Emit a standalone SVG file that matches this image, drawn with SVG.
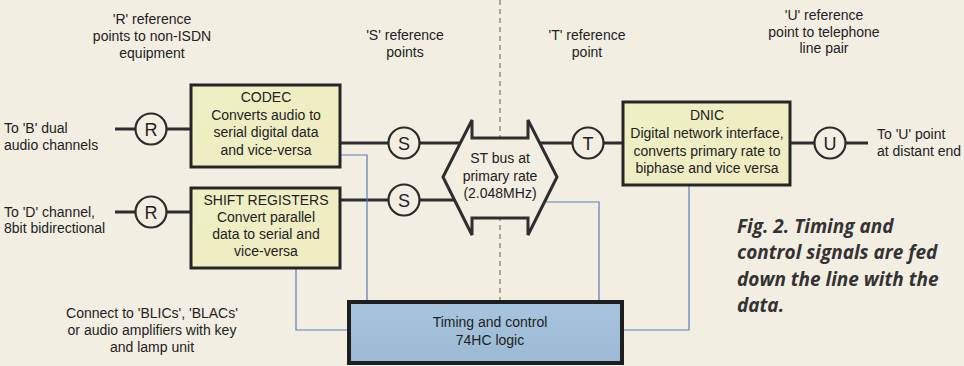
<svg xmlns="http://www.w3.org/2000/svg" width="964" height="366" viewBox="0 0 964 366">
<defs>
<linearGradient id="yel" x1="0" y1="0" x2="1" y2="1">
<stop offset="0" stop-color="#eef0c4"/>
<stop offset="1" stop-color="#f0ebc2"/>
</linearGradient>
<linearGradient id="blu" x1="0" y1="0" x2="0" y2="1">
<stop offset="0" stop-color="#a7c5de"/>
<stop offset="1" stop-color="#9bb9d2"/>
</linearGradient>
<style>
text{font-family:"Liberation Sans",Arial,sans-serif;font-size:14px;fill:#222;text-anchor:middle}
.l{text-anchor:start}
.box{stroke:#262626;stroke-width:3;fill:url(#yel)}
.circ{fill:#f3eee2;stroke:#2b2b2b;stroke-width:2.2}
.ct{font-size:18px}
.wire{stroke:#2e2e2e;stroke-width:3;fill:none}
.bl{stroke:#5d7fb3;stroke-width:1.2;fill:none}
.cap{font-family:"Open Sans","Noto Sans",sans-serif;font-weight:bold;font-style:italic;font-size:19px;fill:#333;text-anchor:start}
</style>
</defs>
<rect width="964" height="366" fill="#f3eee2"/>
<line x1="500" y1="0" x2="500" y2="366" stroke="#777" stroke-width="1.2" stroke-dasharray="5,4"/>

<g id="labels">
<text x="152" y="24">'R' reference</text>
<text x="152" y="41">points to non-ISDN</text>
<text x="152" y="58">equipment</text>
<text x="405" y="40">'S' reference</text>
<text x="405" y="57">points</text>
<text x="587" y="40">'T' reference</text>
<text x="587" y="57">point</text>
<text x="824" y="20">'U' reference</text>
<text x="824" y="37">point to telephone</text>
<text x="824" y="53">line pair</text>
<text class="l" x="4" y="133">To 'B' dual</text>
<text class="l" x="4" y="150">audio channels</text>
<text class="l" x="4" y="217">To 'D' channel,</text>
<text class="l" x="4" y="233">8bit bidirectional</text>
<text class="l" x="877" y="139">To 'U' point</text>
<text class="l" x="877" y="156" font-size="13.5">at distant end</text>
<text x="152" y="318">Connect to 'BLICs', 'BLACs'</text>
<text x="152" y="335">or audio amplifiers with key</text>
<text x="152" y="352">and lamp unit</text>
</g>

<g id="connectors">
<path class="wire" d="M115,129 H137 M165,129 H191"/>
<path class="wire" d="M115,212 H137 M165,212 H191"/>
<path class="wire" d="M340,143 H390 M418,143 H461"/>
<path class="wire" d="M340,200 H390 M418,200 H455"/>
<path class="wire" d="M539,143 H574 M602,143 H623"/>
<path class="wire" d="M790,143 H816 M844,143 H868"/>
<path class="bl" d="M340,155 H367 V302"/>
<path class="bl" d="M296,268 V330 H349"/>
<path class="bl" d="M545,202 H599 V302"/>
<path class="bl" d="M689,185 V330 H622"/>
</g>

<g id="R1"><circle class="circ" cx="151" cy="129" r="15.5"/><text class="ct" x="151" y="135.5">R</text></g>
<g id="R2"><circle class="circ" cx="151" cy="212" r="15.5"/><text class="ct" x="151" y="218.5">R</text></g>
<g id="S1"><circle class="circ" cx="404" cy="143" r="15.5"/><text class="ct" x="404" y="149.5">S</text></g>
<g id="S2"><circle class="circ" cx="404" cy="200" r="15.5"/><text class="ct" x="404" y="206.5">S</text></g>
<g id="T"><circle class="circ" cx="588" cy="143" r="15.5"/><text class="ct" x="588" y="149.5">T</text></g>
<g id="U"><circle class="circ" cx="830" cy="143" r="15.5"/><text class="ct" x="830" y="149.5">U</text></g>

<g id="codec">
<rect class="box" x="191" y="85" width="149" height="82"/>
<text x="266" y="102">CODEC</text>
<text x="266" y="120">Converts audio to</text>
<text x="266" y="137">serial digital data</text>
<text x="266" y="155">and vice-versa</text>
</g>
<g id="shift">
<rect class="box" x="191" y="188" width="149" height="80"/>
<text x="266" y="205">SHIFT REGISTERS</text>
<text x="266" y="222">Convert parallel</text>
<text x="266" y="239">data to serial and</text>
<text x="266" y="256">vice-versa</text>
</g>
<g id="stbus">
<path d="M472,120 L472,138 L528,138 L528,120 L557,177 L528,235 L528,218 L472,218 L472,235 L443,177 Z" fill="#f3eee2" stroke="#2e2e2e" stroke-width="3"/>
<text x="500" y="163">ST bus at</text>
<text x="500" y="181">primary rate</text>
<text x="500" y="198">(2.048MHz)</text>
</g>
<g id="dnic">
<rect class="box" x="623" y="102" width="167" height="83"/>
<text x="707" y="120">DNIC</text>
<text x="707" y="138">Digital network interface,</text>
<text x="707" y="156">converts primary rate to</text>
<text x="707" y="173">biphase and vice versa</text>
</g>
<g id="timing">
<rect x="349" y="302" width="273" height="61" fill="url(#blu)" stroke="#1e1e1e" stroke-width="4"/>
<text x="490" y="327">Timing and control</text>
<text x="490" y="345">74HC logic</text>
</g>

<g id="caption">
<text class="cap" x="737" y="233">Fig. 2. Timing and</text>
<text class="cap" x="737" y="259">control signals are fed</text>
<text class="cap" x="737" y="286">down the line with the</text>
<text class="cap" x="737" y="312">data.</text>
</g>
</svg>
